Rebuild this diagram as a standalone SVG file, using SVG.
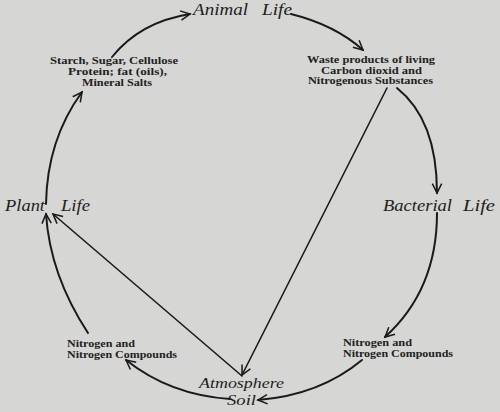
<svg xmlns="http://www.w3.org/2000/svg" width="500" height="412" viewBox="0 0 500 412">
<style>
.bg{fill:#d6d6d4}
.big{font-family:"Liberation Serif","DejaVu Serif",serif;font-style:italic;font-size:17px;fill:#1e1e1e}
.as{font-size:15px}
.sm{font-family:"Liberation Serif","DejaVu Serif",serif;font-weight:bold;font-size:10.5px;fill:#222}
.arc{fill:none;stroke:#1a1a1a;stroke-width:2;stroke-linecap:round}
.ln{fill:none;stroke:#1a1a1a;stroke-width:1.6;stroke-linecap:round}
</style>
<defs>
<marker id="ah" markerUnits="userSpaceOnUse" orient="auto" markerWidth="14" markerHeight="14" refX="0" refY="0" viewBox="-10 -6 12 12" overflow="visible">
<path d="M-8,-4 L0,0 L-8,4" fill="none" stroke="#1a1a1a" stroke-width="1.3"/>
</marker>
</defs>
<rect class="bg" x="0" y="0" width="500" height="412"/>
<g id="connectors">
<path class="arc" d="M46,204 Q47,140 82,92" marker-end="url(#ah)"/>
<path class="arc" d="M112,57 Q140,22 190,14" marker-end="url(#ah)"/>
<path class="arc" d="M291,14 Q335,25 363,50" marker-end="url(#ah)"/>
<path class="arc" d="M397,88 Q437,120 437,193" marker-end="url(#ah)"/>
<path class="arc" d="M437,213 Q437,290 385,337" marker-end="url(#ah)"/>
<path class="arc" d="M362,360 Q320,395 258,400" marker-end="url(#ah)"/>
<path class="arc" d="M230,399 Q170,395 126,360" marker-end="url(#ah)"/>
<path class="arc" d="M88,333 Q50,275 46,214" marker-end="url(#ah)"/>
<path class="ln" d="M242,376 L53,214" marker-end="url(#ah)"/>
<path class="ln" d="M387,88 L242,375" marker-end="url(#ah)"/>
</g>
<g id="animal-life">
<text class="big" x="193" y="15" textLength="55" lengthAdjust="spacingAndGlyphs">Animal</text>
<text class="big" x="262" y="15" textLength="30" lengthAdjust="spacingAndGlyphs">Life</text>
</g>
<g id="plant-products">
<text class="sm" x="50" y="64" textLength="128" lengthAdjust="spacingAndGlyphs">Starch, Sugar, Cellulose</text>
<text class="sm" x="68" y="75" textLength="99" lengthAdjust="spacingAndGlyphs">Protein; fat (oils),</text>
<text class="sm" x="82" y="86" textLength="70" lengthAdjust="spacingAndGlyphs">Mineral Salts</text>
</g>
<g id="waste-products">
<text class="sm" x="307" y="63" textLength="128" lengthAdjust="spacingAndGlyphs">Waste products of living</text>
<text class="sm" x="321" y="74" textLength="101" lengthAdjust="spacingAndGlyphs">Carbon dioxid  and</text>
<text class="sm" x="308" y="84" textLength="125" lengthAdjust="spacingAndGlyphs">Nitrogenous Substances</text>
</g>
<g id="bacterial-life">
<text class="big" x="383" y="211" textLength="69" lengthAdjust="spacingAndGlyphs">Bacterial</text>
<text class="big" x="463" y="211" textLength="32" lengthAdjust="spacingAndGlyphs">Life</text>
</g>
<g id="plant-life">
<text class="big" x="5" y="211" textLength="40" lengthAdjust="spacingAndGlyphs">Plant</text>
<text class="big" x="61" y="211" textLength="29" lengthAdjust="spacingAndGlyphs">Life</text>
</g>
<g id="nitrogen-left">
<text class="sm" x="67" y="347" textLength="68" lengthAdjust="spacingAndGlyphs">Nitrogen and</text>
<text class="sm" x="67" y="358" textLength="110" lengthAdjust="spacingAndGlyphs">Nitrogen Compounds</text>
</g>
<g id="nitrogen-right">
<text class="sm" x="343" y="346" textLength="69" lengthAdjust="spacingAndGlyphs">Nitrogen and</text>
<text class="sm" x="343" y="357" textLength="110" lengthAdjust="spacingAndGlyphs">Nitrogen Compounds</text>
</g>
<g id="atmosphere-soil">
<text class="big as" x="199" y="388" textLength="85" lengthAdjust="spacingAndGlyphs">Atmosphere</text>
<text class="big as" x="227" y="405" textLength="29" lengthAdjust="spacingAndGlyphs">Soil</text>
</g>
</svg>
